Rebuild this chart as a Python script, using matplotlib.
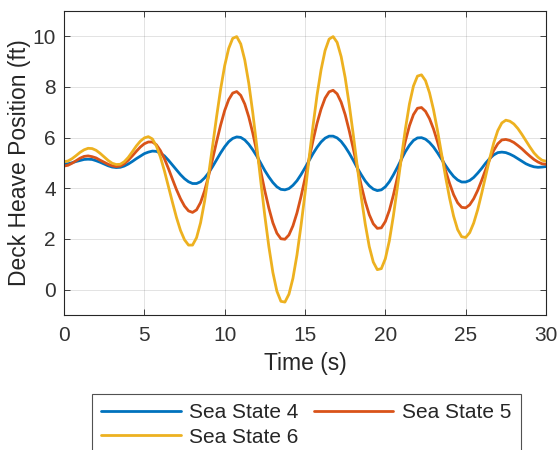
import numpy as np
import matplotlib
matplotlib.use("Agg")
import matplotlib.pyplot as plt

plt.rcParams["font.family"] = ["Liberation Sans", "DejaVu Sans"]

# Sample times (s), 0.25 s spacing over 0..30 s
time_s = np.arange(121) * 0.25

sea_state_4 = [
    4.96, 4.97, 5.01, 5.06, 5.10, 5.14, 5.15, 5.14, 5.09, 5.03, 4.96, 4.89, 4.84, 4.82,
    4.83, 4.88, 4.96, 5.06, 5.17, 5.27, 5.37, 5.43, 5.47,
    5.46, 5.39, 5.28, 5.11, 4.92, 4.73, 4.54, 4.38, 4.26, 4.19,
    4.19, 4.26, 4.41, 4.61, 4.86, 5.13, 5.40, 5.64, 5.84, 5.97, 6.03,
    6.01, 5.91, 5.74, 5.52, 5.27, 4.99, 4.70, 4.45, 4.23, 4.06, 3.96,
    3.94, 3.99, 4.12, 4.30, 4.54, 4.81, 5.09, 5.37, 5.62, 5.83, 5.98, 6.06,
    6.06, 5.99, 5.85, 5.64, 5.39, 5.11, 4.81, 4.54, 4.29, 4.10, 3.97, 3.91,
    3.94, 4.06, 4.26, 4.53, 4.83, 5.15, 5.45, 5.70, 5.89, 5.99,
    6.00, 5.94, 5.81, 5.63, 5.40, 5.15, 4.90, 4.67, 4.47, 4.33, 4.25,
    4.25, 4.31, 4.43, 4.60, 4.79, 5.00, 5.18, 5.32, 5.41,
    5.43, 5.41, 5.35, 5.27, 5.17, 5.07, 4.97, 4.90, 4.85, 4.83, 4.84, 4.86,
]

sea_state_5 = [
    4.88, 4.91, 4.99, 5.09, 5.19, 5.26,
    5.28, 5.25, 5.20, 5.11, 5.03, 4.95, 4.89, 4.86,
    4.88, 4.97, 5.11, 5.28, 5.46, 5.63, 5.76, 5.83,
    5.83, 5.72, 5.49, 5.17, 4.78, 4.36, 3.95, 3.59, 3.30, 3.11, 3.05,
    3.15, 3.44, 3.90, 4.49, 5.16, 5.85, 6.50, 7.07, 7.50, 7.76,
    7.82, 7.67, 7.33, 6.82, 6.18, 5.44, 4.66, 3.90, 3.22, 2.64, 2.23, 2.01,
    1.99, 2.16, 2.52, 3.03, 3.67, 4.39, 5.15, 5.89, 6.57, 7.13, 7.56, 7.81,
    7.87, 7.73, 7.40, 6.91, 6.28, 5.58, 4.84, 4.12, 3.48, 2.96, 2.60, 2.42,
    2.44, 2.69, 3.13, 3.73, 4.43, 5.17, 5.87, 6.47, 6.91, 7.16,
    7.19, 7.04, 6.75, 6.34, 5.83, 5.27, 4.70, 4.19, 3.75, 3.43, 3.25,
    3.23, 3.35, 3.59, 3.92, 4.32, 4.75, 5.15, 5.50, 5.76, 5.91,
    5.93, 5.89, 5.81, 5.69, 5.56, 5.41, 5.27, 5.14, 5.04, 4.97, 4.95,
]

sea_state_6 = [
    5.05, 5.08, 5.17, 5.29, 5.42, 5.52, 5.58,
    5.57, 5.50, 5.38, 5.24, 5.10, 4.99, 4.94,
    4.95, 5.05, 5.22, 5.44, 5.67, 5.86, 5.99,
    6.04, 5.95, 5.67, 5.24, 4.69, 4.07, 3.45, 2.85, 2.34, 1.97, 1.76,
    1.76, 2.05, 2.64, 3.49, 4.54, 5.68, 6.84, 7.92, 8.84, 9.52, 9.92,
    9.99, 9.70, 9.07, 8.15, 6.98, 5.65, 4.26, 2.91, 1.70, 0.68, -0.06, -0.46,
    -0.49, -0.18, 0.45, 1.37, 2.52, 3.79, 5.16, 6.47, 7.68, 8.68, 9.44, 9.89,
    9.99, 9.76, 9.20, 8.37, 7.32, 6.14, 4.88, 3.66, 2.59, 1.70, 1.09, 0.79,
    0.83, 1.22, 1.93, 2.91, 4.04, 5.22, 6.35, 7.33, 8.04, 8.43,
    8.48, 8.25, 7.77, 7.10, 6.27, 5.36, 4.45, 3.61, 2.90, 2.37, 2.09,
    2.06, 2.25, 2.63, 3.16, 3.81, 4.50, 5.19, 5.80, 6.28, 6.58, 6.69,
    6.65, 6.54, 6.36, 6.13, 5.88, 5.63, 5.40, 5.23, 5.11, 5.07,
]

series_labels = ["Sea State 4", "Sea State 5", "Sea State 6"]
series_colors = ["#0072BD", "#D95319", "#EDB120"]

x_ticks = [0, 5, 10, 15, 20, 25, 30]
y_ticks = [0, 2, 4, 6, 8, 10]

fig = plt.figure(figsize=(5.58, 4.5), dpi=100)
ax = fig.add_axes([64 / 558, 1 - 315 / 450, (546 - 64) / 558, (315 - 11) / 450])

lines = []
for values, label, color in zip([sea_state_4, sea_state_5, sea_state_6],
                                series_labels, series_colors):
    ln, = ax.plot(time_s, values, color=color, lw=2.0, label=label,
                  solid_capstyle="round", solid_joinstyle="round")
    lines.append(ln)

ax.set_xlim(0, 30)
ax.set_ylim(-1, 11)
ax.set_xticks(x_ticks)
ax.set_yticks(y_ticks)

axis_color = "#262626"
ax.grid(True, color="#262626", alpha=0.15, lw=0.6)
ax.set_axisbelow(True)
for spine in ax.spines.values():
    spine.set_color(axis_color)
    spine.set_linewidth(0.8)
ax.tick_params(direction="in", length=4, width=0.6, colors=axis_color,
               top=True, right=True, labelsize=15, pad=6)
ax.tick_params(axis="x", pad=8)
for lbl in ax.get_xticklabels() + ax.get_yticklabels():
    lbl.set_color("#333333")

ax.set_xlabel("Time (s)", fontsize=16.5, color="#262626", labelpad=5)
ax.set_ylabel("Deck Heave Position (ft)", fontsize=16.5, color="#262626", labelpad=1)

# Legend filled row by row: (4, 5) on the first row, 6 on the second
order = [0, 2, 1]
leg = fig.legend([lines[i] for i in order], [series_labels[i] for i in order],
                 loc="upper left", bbox_to_anchor=(92 / 558, 1 - 394 / 450),
                 ncol=2, fontsize=15, frameon=True, fancybox=False,
                 handlelength=3.8, handletextpad=0.42, columnspacing=0.75,
                 labelspacing=0.25, borderpad=0.45, borderaxespad=0.0)
leg.get_frame().set_edgecolor("#262626")
leg.get_frame().set_linewidth(0.8)
for t in leg.get_texts():
    t.set_color("#262626")

fig.savefig("out.png", dpi=100)
